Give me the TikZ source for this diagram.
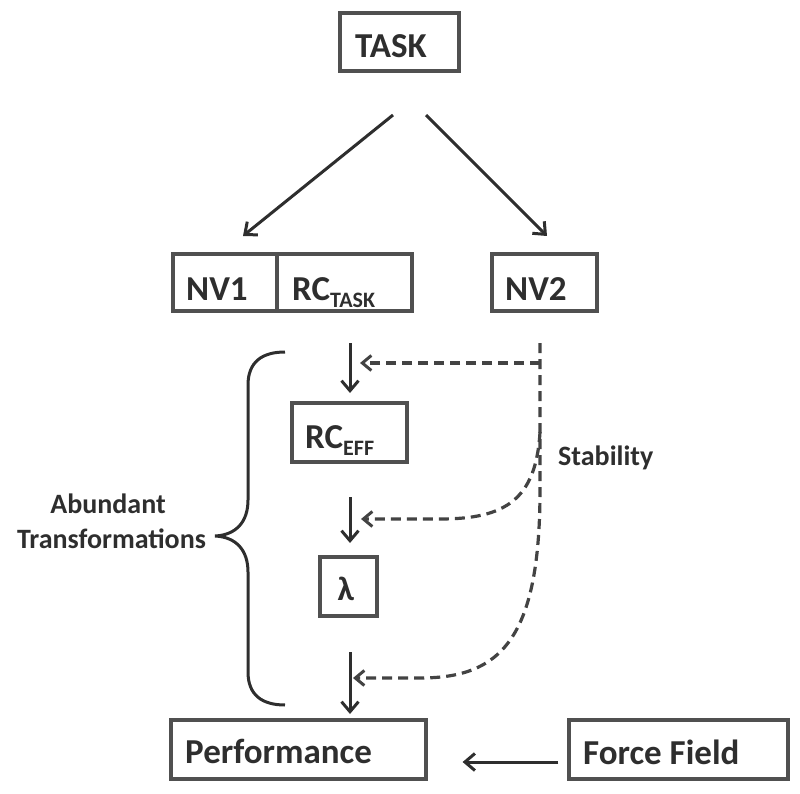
\documentclass[tikz,border=0pt]{standalone}
\usepackage{fontspec}
\setmainfont{Carlito}
\usetikzlibrary{arrows.meta}
\definecolor{ink}{HTML}{2E2E2E}
\definecolor{frame}{HTML}{505050}
\begin{document}
\begin{tikzpicture}[x=1pt,y=-1pt,
  box/.style={draw=frame, line width=3.2pt, inner sep=0pt},
  lbl/.style={inner sep=0pt, anchor=base west, text=ink, font=\fontsize{35}{35}\selectfont\bfseries},
  small/.style={inner sep=0pt, anchor=base west, text=ink, font=\fontsize{28}{28}\selectfont\bfseries},
  arr/.style={draw=ink, line width=3pt, -{Straight Barb[length=10pt,width=17pt,line width=3pt]}},
  darr/.style={draw=ink!90, line width=3.2pt, dash pattern=on 10pt off 6pt, -{Straight Barb[length=9pt,width=15pt,line width=3pt]}},
  brace/.style={draw=ink, line width=3pt}
]
\useasboundingbox (0,0) rectangle (800,794);

% boxes
\node[box, minimum width=119pt, minimum height=58pt] (task) at (399.5,42) {};
\node[box, minimum width=104pt, minimum height=57pt] (nv1) at (225,282.5) {};
\node[box, minimum width=135pt, minimum height=57pt] (rct) at (344.5,282.5) {};
\node[box, minimum width=105pt, minimum height=57pt] (nv2) at (544.5,282.5) {};
\node[box, minimum width=115pt, minimum height=59pt] (rce) at (349.5,432.5) {};
\node[box, minimum width=57pt, minimum height=59pt] (lam) at (348.5,586.5) {};
\node[box, minimum width=255pt, minimum height=59pt] (perf) at (298.5,749.5) {};
\node[box, minimum width=219pt, minimum height=59pt] (ff) at (678.5,749.5) {};

% labels
\node[lbl] (tasklbl) at (355,58) {TASK};
\node[lbl] (nv1lbl) at (186,300) {NV1};
\node[lbl] (rctlbl) at (292,300) {RC{\fontsize{22}{22}\selectfont\raisebox{-7pt}{TASK}}};
\node[lbl] (nv2lbl) at (505,300) {NV2};
\node[lbl] (rcelbl) at (305,448) {RC{\fontsize{22}{22}\selectfont\raisebox{-7pt}{EFF}}};
\node[inner sep=0pt, anchor=base, text=ink, font=\fontsize{34}{34}\selectfont\bfseries] (lamlbl) at (346,600) {λ};
\node[lbl] (perflbl) at (185,763) {Performance};
\node[lbl] (fflbl) at (583,764) {Force Field};
\node[small] (stab) at (558,465) {Stability};
\node[small, anchor=base] (ab1) at (108,513) {Abundant};
\node[small, anchor=base] (ab2) at (111.5,548) {Transformations};

% coordinates
\coordinate (t1s) at (393,115);
\coordinate (t1e) at (243,236);
\coordinate (t2s) at (426,115);
\coordinate (t2e) at (547,236);
\coordinate (a1s) at (350,343);
\coordinate (a1e) at (350,393);
\coordinate (a2s) at (350,497);
\coordinate (a2e) at (350,543);
\coordinate (a3s) at (350,652);
\coordinate (a3e) at (350,714);
\coordinate (d0) at (540,343);
\coordinate (d1) at (540,363);
\coordinate (d2) at (540,432);
\coordinate (d3) at (540,490);
\coordinate (h1) at (360,363);
\coordinate (h2) at (361,519);
\coordinate (h3) at (353,678);

% solid arrows
\draw[arr] (t1s) -- (t1e);
\draw[arr] (t2s) -- (t2e);
\draw[arr] (a1s) -- (a1e);
\draw[arr] (a2s) -- (a2e);
\draw[arr] (a3s) -- (a3e);
\draw[arr, shorten <=9pt, shorten >=35pt] ([yshift=-12.5pt]ff.west) -- ([yshift=-12.5pt]perf.east);

% dashed stability arrows
\draw[darr] (d1) -- (h1);
\draw[darr] (d2) .. controls (536,500) and (505,519) .. (440,519) -- (h2);
\draw[darr] (d0) -- (d3) .. controls (540,640) and (500,678) .. (420,678) -- (h3);

% brace
\draw[brace] (285,352) .. controls (262,352) and (248,362) .. (248,385)
  -- (248,500) .. controls (248,522) and (236,535) .. (215,536)
  .. controls (236,537) and (248,550) .. (248,572)
  -- (248,672) .. controls (248,695) and (262,705) .. (285,705);
\end{tikzpicture}
\end{document}
